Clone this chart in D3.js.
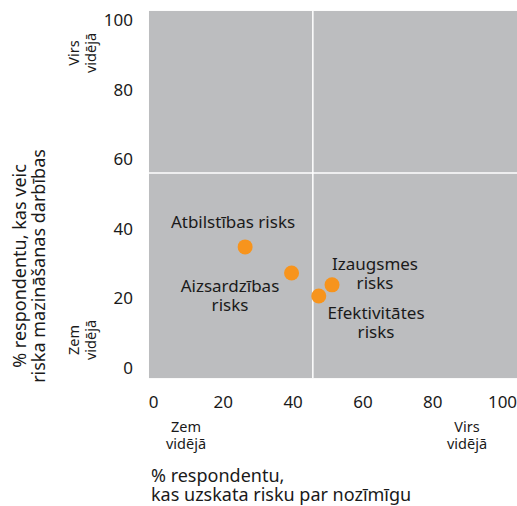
<!DOCTYPE html>
<html>
<head>
<meta charset="utf-8">
<script src="https://cdn.jsdelivr.net/npm/d3@7"></script>
<style>
  body { margin: 0; background: #fff; }
  text { font-family: "Noto Sans", sans-serif; fill: #1a1a1a; }
</style>
</head>
<body>
<div id="chart"></div>
<script>
// data
var risks = ["Atbilstības risks", "Aizsardzības risks", "Efektivitātes risks", "Izaugsmes risks"];
var xValues = [26.4, 39.7, 47.5, 51.3];
var yValues = [34.8, 27.3, 20.7, 23.9];
var xTicks = [0, 20, 40, 60, 80, 100];
var yTicks = [0, 20, 40, 60, 80, 100];
var xAverage = 45.8, yAverage = 56;

var width = 517, height = 506;

var svg = d3.select("#chart")
  .append("svg")
    .attr("width", width)
    .attr("height", height);

var x = d3.scaleLinear().domain([0, 100]).range([153, 502]);
var y = d3.scaleLinear().domain([0, 100]).range([368, 20]);

// gray plot area
svg.append("rect")
  .attr("x", x(-1.15))
  .attr("y", y(102.6))
  .attr("width", x(104.4) - x(-1.15))
  .attr("height", y(-2.9) - y(102.6))
  .style("fill", "#bcbdbf");

// average lines
svg.append("line")
  .attr("x1", x(xAverage)).attr("x2", x(xAverage))
  .attr("y1", y(102.6)).attr("y2", y(-2.9))
  .style("stroke", "#fff").style("stroke-width", 1.5);
svg.append("line")
  .attr("x1", x(-1.15)).attr("x2", x(104.4))
  .attr("y1", y(yAverage)).attr("y2", y(yAverage))
  .style("stroke", "#fff").style("stroke-width", 1.5);

// axes (labels only)
var xAxis = svg.append("g")
  .attr("transform", "translate(0,396)")
  .call(d3.axisBottom(x).tickValues(xTicks).tickSize(0).tickPadding(0));
xAxis.select(".domain").remove();
xAxis.selectAll("text").style("font-size", "17px").attr("dy", "0.71em");

var yAxis = svg.append("g")
  .attr("transform", "translate(133,0)")
  .call(d3.axisLeft(y).tickValues(yTicks).tickSize(0).tickPadding(0));
yAxis.select(".domain").remove();
yAxis.selectAll("text").style("font-size", "17px");
svg.selectAll(".tick text").attr("font-family", null);

// points
var data = risks.map(function(d, i) { return {name: d, x: xValues[i], y: yValues[i]}; });
svg.append("g")
  .selectAll("circle")
  .data(data)
  .enter()
  .append("circle")
    .attr("cx", function(d) { return x(d.x); })
    .attr("cy", function(d) { return y(d.y); })
    .attr("r", 7.5)
    .style("fill", "#f7941d");

// point labels
var labels = [
  {lines: ["Atbilstības risks"], cx: 233, y0: 228},
  {lines: ["Aizsardzības", "risks"], cx: 230, y0: 292},
  {lines: ["Izaugsmes", "risks"], cx: 375, y0: 270},
  {lines: ["Efektivitātes", "risks"], cx: 376, y0: 319}
];
labels.forEach(function(l) {
  var t = svg.append("text")
    .attr("text-anchor", "middle")
    .style("font-size", "17px");
  l.lines.forEach(function(s, i) {
    t.append("tspan").attr("x", l.cx).attr("y", l.y0 + i * 18.5).text(s);
  });
});

// helper for two-line rotated text
function rotated(lines, cx, cy, size, gap) {
  var t = svg.append("text")
    .attr("text-anchor", "middle")
    .attr("transform", "translate(" + cx + "," + cy + ") rotate(-90)")
    .style("font-size", size + "px");
  lines.forEach(function(s, i) {
    t.append("tspan").attr("x", 0).attr("y", i * gap).text(s);
  });
}

rotated(["Virs", "vidējā"], 79, 53, 14.5, 16.5);
rotated(["Zem", "vidējā"], 79, 340, 14.5, 16.5);
rotated(["% respondentu, kas veic", "riska mazināšanas darbības"], 26, 266, 18, 19);

// bottom small labels
[["Zem", "vidējā", 186], ["Virs", "vidējā", 467]].forEach(function(d) {
  var t = svg.append("text").attr("text-anchor", "middle").style("font-size", "14.5px");
  t.append("tspan").attr("x", d[2]).attr("y", 432).text(d[0]);
  t.append("tspan").attr("x", d[2]).attr("y", 448.5).text(d[1]);
});

// x title
var xt = svg.append("text").style("font-size", "18px");
xt.append("tspan").attr("x", 151).attr("y", 482).text("% respondentu,");
xt.append("tspan").attr("x", 151).attr("y", 501).text("kas uzskata risku par nozīmīgu");
</script>
</body>
</html>
